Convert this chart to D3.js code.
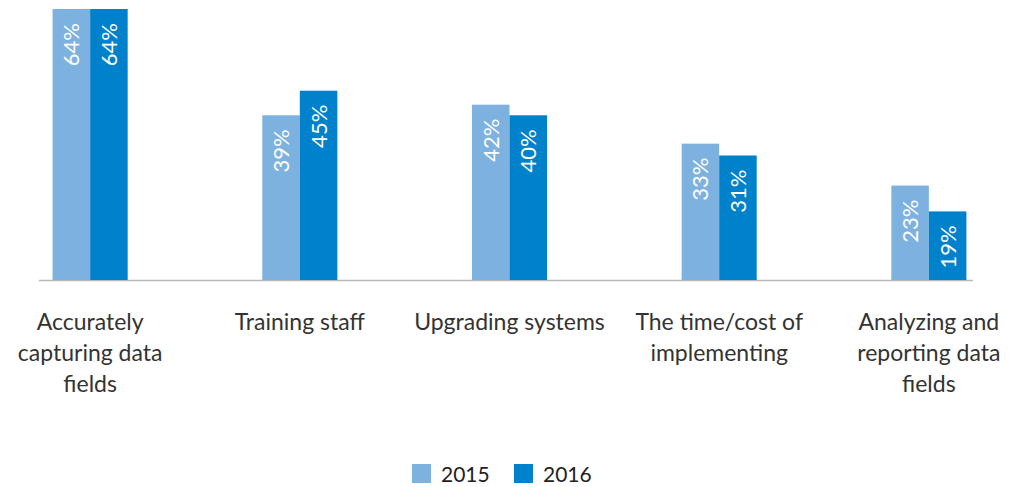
<!DOCTYPE html>
<html>
<head>
<meta charset="utf-8">
<script src="https://cdn.jsdelivr.net/npm/d3@7"></script>
<style>
  body { margin: 0; background: #fff; }
  text { font-family: "Lato", "Open Sans", sans-serif; }
</style>
</head>
<body>
<svg width="1015" height="487"></svg>
<script>
// data
const categories = ["Accurately\ncapturing data\nfields", "Training staff", "Upgrading systems", "The time/cost of\nimplementing", "Analyzing and\nreporting data\nfields"];
const years = ["2015", "2016"];
const values2015 = [64, 38.9, 41.4, 32.2, 22.3];
const values2016 = [64, 44.7, 38.9, 29.4, 16.2];
const labels2015 = ["64%", "39%", "42%", "33%", "23%"];
const labels2016 = ["64%", "45%", "40%", "31%", "19%"];
const colors = ["#7db2e0", "#0081cb"];

var svg = d3.select("svg"),
    width = +svg.attr("width"),
    height = +svg.attr("height"),
    baseline = 280,
    topY = 9;

var data = categories.map(function(c, i){
    return {cat: c, vals: [
        {year: years[0], v: values2015[i], label: labels2015[i]},
        {year: years[1], v: values2016[i], label: labels2016[i]}
    ]};
});

var x0 = d3.scaleBand(categories, [52.6, 966.4]).paddingInner(0.642).paddingOuter(0),
    x1 = d3.scaleBand(years, [0, x0.bandwidth()]).padding(0),
    y = d3.scaleLinear([0, 64], [baseline, topY]),
    color = d3.scaleOrdinal(years, colors);

// baseline
svg.append("line")
    .attr("x1", 39)
    .attr("x2", 973)
    .attr("y1", baseline + 0.5)
    .attr("y2", baseline + 0.5)
    .attr("stroke", "#b8b8b8")
    .attr("stroke-width", 1.5);

var group = svg.selectAll(".grp")
    .data(data)
    .enter().append("g")
    .attr("class", "grp")
    .attr("transform", d => "translate(" + x0(d.cat) + ",0)");

group.selectAll("rect")
    .data(d => d.vals)
    .enter().append("rect")
    .attr("x", d => x1(d.year))
    .attr("y", d => y(d.v))
    .attr("width", x1.bandwidth())
    .attr("height", d => baseline - y(d.v))
    .attr("fill", d => color(d.year));

// rotated value labels inside the bars
group.selectAll(".val")
    .data(d => d.vals)
    .enter().append("text")
    .attr("class", "val")
    .attr("transform", d => "translate(" + (x1(d.year) + x1.bandwidth()/2 + 8) + "," + (y(d.v) + 14) + ") rotate(-90)")
    .attr("text-anchor", "end")
    .attr("fill", "white")
    .style("font-size", "22px")
    .text(d => d.label);

// category labels
var catLabel = svg.selectAll(".cat")
    .data(categories)
    .enter().append("text")
    .attr("class", "cat")
    .attr("x", d => x0(d) + x0.bandwidth()/2)
    .attr("y", 330)
    .attr("text-anchor", "middle")
    .attr("fill", "#333")
    .style("font-size", "23px");

catLabel.selectAll("tspan")
    .data(d => d.split("\n"))
    .enter().append("tspan")
    .attr("x", function(){ return d3.select(this.parentNode).attr("x"); })
    .attr("dy", (d, i) => i === 0 ? 0 : 31)
    .text(d => d);

// legend
var legend = svg.selectAll(".leg")
    .data(years)
    .enter().append("g")
    .attr("class", "leg")
    .attr("transform", (d, i) => "translate(" + (412 + i*102) + ",464)");

legend.append("rect")
    .attr("width", 19)
    .attr("height", 19)
    .attr("fill", d => color(d));

legend.append("text")
    .attr("x", 29)
    .attr("y", 18)
    .attr("fill", "#222")
    .style("font-size", "21px")
    .text(d => d);
</script>
</body>
</html>
